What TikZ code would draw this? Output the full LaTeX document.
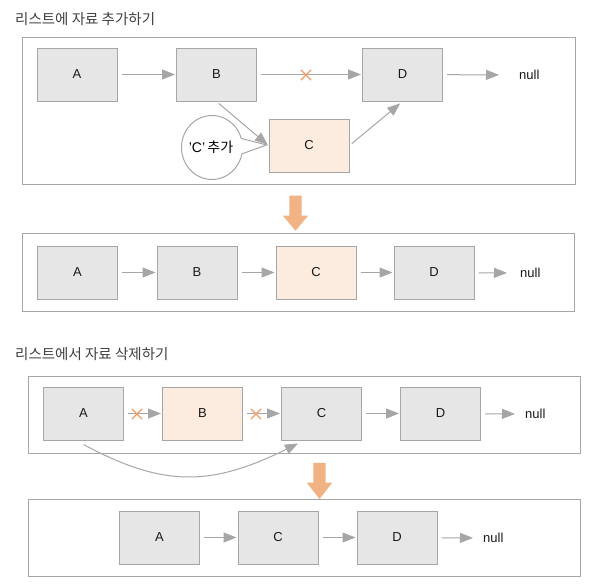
\documentclass[tikz,border=0pt]{standalone}
\usepackage{fontspec}
\setmainfont{Liberation Sans}
\newfontfamily\kr{Noto Sans CJK KR}
\usetikzlibrary{arrows.meta,shapes.callouts,shapes.arrows,shapes.misc,calc}
\definecolor{boxfill}{HTML}{E6E6E6}
\definecolor{boxline}{HTML}{A6A6A6}
\definecolor{peach}{HTML}{FBECDF}
\definecolor{bigarrow}{HTML}{F2B384}
\definecolor{crossc}{HTML}{F29C66}
\definecolor{titlec}{HTML}{404040}
\tikzset{
  listbox/.style={rectangle, draw=boxline, line width=1pt, fill=boxfill, minimum width=80pt, minimum height=53pt, inner sep=0pt, font=\fontsize{13}{15}\selectfont, text=black!90},
  newbox/.style={listbox, fill=peach},
  frame/.style={draw=boxline, line width=1pt},
  link/.style={draw=boxline, line width=1pt, -{Triangle[length=13pt,width=10pt]}, shorten <=4pt, shorten >=1pt},
  tonull/.style={link, shorten >=20pt},
  nulltxt/.style={font=\fontsize{13}{15}\selectfont, text=black!90, inner sep=0pt},
  xmark/.style={cross out, draw=crossc, line width=1.2pt, minimum size=9pt, inner sep=0pt},
  titletxt/.style={font=\kr\fontsize{14.5}{16}\selectfont, text=titlec, anchor=west, inner sep=0pt},
  bigdown/.style={single arrow, fill=bigarrow, draw=none, shape border rotate=270, inner sep=6pt, single arrow head extend=6.5pt}
}
\begin{document}
\begin{tikzpicture}[x=1pt,y=-1pt]
\useasboundingbox[fill=white] (0,0) rectangle (591,587);

% ---------- Section 1: insert ----------
\node[titletxt] (t1) at (15,19) {리스트에 자료 추가하기};
\draw[frame] (22,37) rectangle (575,184);
\node[listbox] (A1) at (77,74.5) {A};
\node[listbox] (B1) at (216.5,74.5) {B};
\node[listbox] (D1) at (402.5,74.5) {D};
\node[newbox] (C1) at (309,145.5) {C};
\node[nulltxt, anchor=west] (N1) at (519,75) {null};

\node[ellipse callout, draw=boxline, line width=1pt, fill=white, minimum width=61pt, minimum height=64pt, inner sep=0pt, callout pointer arc=28, callout absolute pointer={($(C1.west)+(-2,-0.5)$)}] (co) at (212,147.5) {};
\node[font=\fontsize{14}{16}\selectfont, inner sep=0pt] (cot) at (211,147) {'C'\,{\kr 추가}};

\draw[link] (A1) -- (B1);
\draw[link] (B1) -- (D1);
\node[xmark] (x1) at (306,75) {};
\draw[tonull] (D1) -- (N1.west);
\draw[link, shorten <=3pt, shorten >=1pt] (B1.south) -- (C1.west);
\draw[link, shorten <=3pt, shorten >=3pt] (C1.east) -- (D1.south);

\node[bigdown, minimum height=35pt, single arrow tip angle=80] (ar1) at (295.5,209.5) {};

% ---------- Section 1b ----------
\draw[frame] (22,233) rectangle (574,311);
\node[listbox] (A1b) at (77.5,272.5) {A};
\node[listbox] (B1b) at (197,272.5) {B};
\node[newbox] (C1b) at (316,272.5) {C};
\node[listbox] (D1b) at (434,272.5) {D};
\node[nulltxt, anchor=west] (N1b) at (520,273) {null};
\draw[link] (A1b) -- (B1b);
\draw[link] (B1b) -- (C1b);
\draw[link] (C1b) -- (D1b);
\draw[tonull, shorten >=13pt] (D1b) -- (N1b.west);

% ---------- Section 2: delete ----------
\node[titletxt] (t2) at (15,354) {리스트에서 자료 삭제하기};
\draw[frame] (28,376) rectangle (580,453);
\node[listbox] (A2) at (83.5,413.5) {A};
\node[newbox] (B2) at (202.5,413.5) {B};
\node[listbox] (C2) at (321.5,413.5) {C};
\node[listbox] (D2) at (440.5,413.5) {D};
\node[nulltxt, anchor=west] (N2) at (525,414) {null};
\draw[link] (A2) -- (B2);
\node[xmark] (x2) at (137,414) {};
\draw[link] (B2) -- (C2);
\node[xmark] (x3) at (256,414) {};
\draw[link] (C2) -- (D2);
\draw[tonull, shorten >=10pt] (D2) -- (N2.west);
\coordinate (cs) at ($(A2.south)+(0,4)$);
\coordinate (ce) at ($(C2.south west)+(17,3)$);
\draw[link, shorten <=0pt, shorten >=0pt] (cs) .. controls (163,487) and (210,487) .. (ce);

\node[bigdown, minimum height=36pt, single arrow tip angle=76] (ar2) at (319.5,477) {};

% ---------- Section 2b ----------
\draw[frame] (28,499) rectangle (580,576);
\node[listbox] (A2b) at (159.5,537.5) {A};
\node[listbox] (C2b) at (278,537.5) {C};
\node[listbox] (D2b) at (397,537.5) {D};
\node[nulltxt, anchor=west] (N2b) at (483,538) {null};
\draw[link] (A2b) -- (C2b);
\draw[link] (C2b) -- (D2b);
\draw[tonull, shorten >=10pt] (D2b) -- (N2b.west);
\end{tikzpicture}
\end{document}
